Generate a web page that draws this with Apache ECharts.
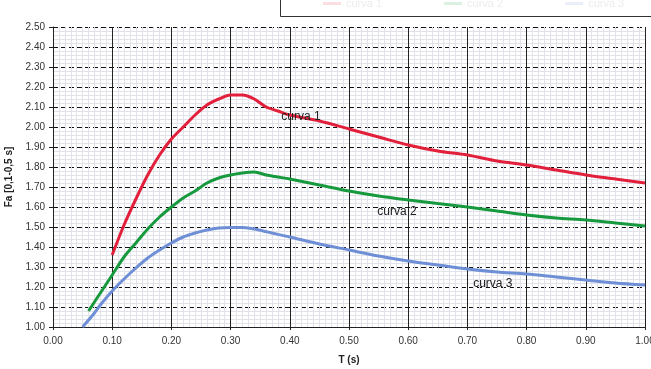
<!DOCTYPE html>
<html>
<head>
<meta charset="utf-8">
<script src="https://cdn.jsdelivr.net/npm/echarts@6/dist/echarts.min.js"></script>
<style>
  html, body { margin: 0; padding: 0; background: #fff; }
  #main { width: 651px; height: 369px; }
</style>
</head>
<body>
<div id="main"></div>
<script>
// valori
var seriesNames = ['curva 1', 'curva 2', 'curva 3'];

var t1 = [0.10,0.12,0.14,0.16,0.18,0.20,0.22,0.24,0.26,0.28,0.30,0.32,0.34,0.36,0.38,0.40,0.45,0.50,0.55,0.60,0.65,0.70,0.75,0.80,0.85,0.90,0.95,1.00];
var fa1 = [1.36,1.51,1.64,1.76,1.86,1.94,2.00,2.06,2.11,2.14,2.16,2.16,2.14,2.10,2.08,2.06,2.03,1.99,1.95,1.91,1.88,1.86,1.83,1.81,1.785,1.76,1.74,1.72];

var t2 = [0.06,0.08,0.10,0.12,0.14,0.16,0.18,0.20,0.22,0.24,0.26,0.28,0.30,0.32,0.34,0.36,0.38,0.40,0.45,0.50,0.55,0.60,0.65,0.70,0.75,0.80,0.85,0.90,0.95,1.00];
var fa2 = [1.08,1.17,1.26,1.35,1.42,1.49,1.55,1.60,1.645,1.68,1.72,1.745,1.76,1.77,1.775,1.76,1.75,1.74,1.71,1.68,1.655,1.635,1.617,1.60,1.58,1.56,1.545,1.535,1.52,1.505];

var t3 = [0.05,0.07,0.08,0.10,0.12,0.14,0.16,0.18,0.20,0.22,0.24,0.26,0.28,0.30,0.32,0.34,0.36,0.38,0.40,0.45,0.50,0.55,0.60,0.65,0.70,0.75,0.80,0.85,0.90,0.95,1.00];
var fa3 = [1.00,1.07,1.11,1.18,1.24,1.295,1.345,1.385,1.42,1.45,1.47,1.485,1.495,1.498,1.497,1.49,1.477,1.463,1.45,1.415,1.385,1.355,1.33,1.31,1.29,1.275,1.265,1.25,1.235,1.22,1.21];

// posizione delle etichette "curva n" (in coordinate T, Fa)
var labelPos = [[0.419, 2.05], [0.581, 1.575], [0.743, 1.215]];

var colors = ['#e3203c', '#179a3e', '#6e8fd6'];

function pairs(t, v) {
    var out = [];
    for (var i = 0; i < t.length; i++) out.push([t[i], v[i]]);
    return out;
}

var dati = [pairs(t1, fa1), pairs(t2, fa2), pairs(t3, fa3)];

var myChart = echarts.init(document.getElementById('main'));

var series = [];
for (var k = 0; k < 3; k++) {
    series.push({
        name: seriesNames[k],
        type: 'line',
        data: dati[k],
        smooth: 0.3,
        showSymbol: false,
        lineStyle: { color: colors[k], width: 3 },
        itemStyle: { color: colors[k] },
        markPoint: {
            symbol: 'circle',
            symbolSize: 0,
            silent: true,
            label: {
                show: true,
                position: 'inside',
                formatter: seriesNames[k],
                color: '#222',
                fontSize: 12,
                fontFamily: 'Liberation Sans'
            },
            data: [{ coord: labelPos[k] }]
        }
    });
}

var option = {
    backgroundColor: '#fff',
    animation: false,
    color: colors,
    legend: {
        data: seriesNames,
        left: 318,
        top: -7,
        itemGap: 62,
        itemWidth: 18,
        itemHeight: 3,
        icon: 'rect',
        textStyle: { color: '#ececec', fontSize: 11, fontFamily: 'Liberation Sans' },
        itemStyle: { opacity: 0.15 }
    },
    graphic: [{
        type: 'rect',
        left: 278,
        top: -10,
        shape: { width: 380, height: 24 },
        style: { fill: 'none', stroke: '#333', lineWidth: 1 },
        z: 10
    }],
    grid: { left: 53, right: 6, top: 27, bottom: 42, outerBoundsMode: 'none' },
    xAxis: {
        type: 'value',
        min: 0,
        max: 1,
        interval: 0.1,
        name: 'T (s)',
        nameLocation: 'middle',
        nameGap: 28,
        nameTextStyle: { fontWeight: 'bold', fontSize: 10, color: '#222', fontFamily: 'Liberation Sans' },
        axisLine: { lineStyle: { color: '#222', width: 1 } },
        axisTick: { show: true, length: 3, lineStyle: { color: '#222' } },
        axisLabel: {
            formatter: function (v) { return v.toFixed(2); },
            color: '#333', fontSize: 10, margin: 9, fontFamily: 'Liberation Sans'
        },
        splitLine: { show: true, lineStyle: { color: '#222', width: 1 } },
        minorTick: { show: false, splitNumber: 10 },
        minorSplitLine: { show: true, lineStyle: { color: '#e2e2ea', width: 1 } }
    },
    yAxis: {
        type: 'value',
        min: 1,
        max: 2.5,
        interval: 0.1,
        name: 'Fa [0,1-0,5 s]',
        nameLocation: 'middle',
        nameGap: 36,
        nameTextStyle: { fontWeight: 'bold', fontSize: 10, color: '#222', fontFamily: 'Liberation Sans' },
        axisLine: { show: true, lineStyle: { color: '#222', width: 1 } },
        axisTick: { show: true, length: 4, lineStyle: { color: '#222' } },
        axisLabel: {
            formatter: function (v) { return v.toFixed(2); },
            color: '#333', fontSize: 10, margin: 8, fontFamily: 'Liberation Sans'
        },
        splitLine: { show: true, lineStyle: { color: '#111', width: 1.2, type: [5, 3] } },
        minorTick: { show: false, splitNumber: 5 },
        minorSplitLine: { show: true, lineStyle: { color: '#e2e2ea', width: 1 } }
    },
    series: series
};

myChart.setOption(option);
</script>
</body>
</html>
